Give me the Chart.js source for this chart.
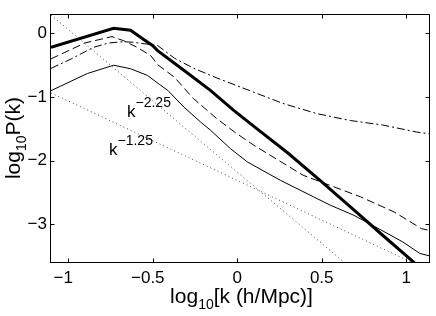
<!DOCTYPE html>
<html>
<head>
<meta charset="utf-8">
<script src="https://cdn.jsdelivr.net/npm/chart.js@4"></script>
<style>
  html, body { margin: 0; padding: 0; background: #fff; }
  #wrap { width: 436px; height: 316px; }
</style>
</head>
<body>
<div id="wrap"><canvas id="pk" width="436" height="316"></canvas></div>
<script>
// log10 k (h/Mpc) and log10 P(k)
const thickK = [-1.1, -0.73, -0.63, -0.55, -0.50, -0.47, -0.315, -0.158, -0.02, 0.118, 0.3, 0.49, 0.7, 0.85, 1.04, 1.07];
const thickP = [-0.22, 0.08, 0.05, -0.10, -0.19, -0.27, -0.58, -0.895, -1.21, -1.50, -1.88, -2.31, -2.80, -3.15, -3.59, -3.66];

const dashK = [-1.1, -0.9, -0.74, -0.67, -0.59, -0.51, -0.47, -0.37, -0.26, -0.12, 0, 0.1, 0.26, 0.39, 0.55, 0.73, 0.93, 1.09, 1.14];
const dashP = [-0.40, -0.15, -0.05, -0.115, -0.22, -0.35, -0.49, -0.69, -1.02, -1.34, -1.58, -1.76, -2.02, -2.23, -2.39, -2.57, -2.81, -3.07, -3.10];

const dashDotK = [-1.1, -0.98, -0.85, -0.76, -0.67, -0.61, -0.47, -0.37, -0.255, -0.12, 0.075, 0.27, 0.47, 0.67, 0.86, 1.06, 1.14];
const dashDotP = [-0.55, -0.40, -0.22, -0.15, -0.13, -0.14, -0.19, -0.39, -0.55, -0.70, -0.90, -1.10, -1.26, -1.37, -1.44, -1.55, -1.58];

const thinK = [-1.1, -0.885, -0.73, -0.63, -0.53, -0.46, -0.41, -0.315, -0.217, -0.158, -0.04, 0.06, 0.256, 0.452, 0.55, 0.69, 0.85, 0.98, 1.08, 1.14];
const thinP = [-0.90, -0.63, -0.50, -0.555, -0.66, -0.80, -0.895, -1.157, -1.39, -1.52, -1.81, -2.02, -2.31, -2.57, -2.70, -2.86, -3.09, -3.28, -3.46, -3.50];

// reference power laws k^-2.25 and k^-1.25
const slope225K = [-1.1, 0.66];
const slope225P = [0.29, -3.66];
const slope125K = [-1.1, 1.04];
const slope125P = [-0.935, -3.61];

const xTicks = [-1, -0.5, 0, 0.5, 1];
const yTicks = [0, -1, -2, -3];

const FONT = '"Liberation Sans", Arial, Helvetica, sans-serif';

function pts(xs, ys) {
    return xs.map((x, i) => ({ x: x, y: ys[i] }));
}

function fmt(v) {
    return v < 0 ? '\u2212' + Math.abs(v) : String(v);
}

// draw text made of pieces with their own size and baseline shift
function richText(ctx, parts, x, y, align) {
    let total = 0;
    parts.forEach(p => {
        ctx.font = p.size + 'px ' + FONT;
        p.w = ctx.measureText(p.t).width;
        total += p.w;
    });
    let cx = align === 'center' ? x - total / 2 : x;
    parts.forEach(p => {
        ctx.font = p.size + 'px ' + FONT;
        ctx.fillText(p.t, cx, y + (p.dy || 0));
        cx += p.w;
    });
}

const framePlugin = {
    id: 'frame',
    afterDraw(chart) {
        const ctx = chart.ctx;
        const ca = chart.chartArea;
        const xs = chart.scales.x, ys = chart.scales.y;
        ctx.save();
        ctx.strokeStyle = '#000';
        ctx.lineWidth = 1;
        ctx.setLineDash([]);
        ctx.strokeRect(ca.left - 0.5, ca.top - 0.5, ca.right - ca.left, ca.bottom - ca.top);

        // inward tick marks on all four sides
        const tl = 4;
        ctx.beginPath();
        xTicks.forEach(v => {
            const px = Math.round(xs.getPixelForValue(v)) + 0.5;
            ctx.moveTo(px, ca.bottom - 0.5); ctx.lineTo(px, ca.bottom - 0.5 - tl);
            ctx.moveTo(px, ca.top - 0.5); ctx.lineTo(px, ca.top - 0.5 + tl);
        });
        yTicks.forEach(v => {
            const py = Math.round(ys.getPixelForValue(v)) + 0.5;
            ctx.moveTo(ca.left - 0.5, py); ctx.lineTo(ca.left - 0.5 + tl, py);
            ctx.moveTo(ca.right - 0.5, py); ctx.lineTo(ca.right - 0.5 - tl, py);
        });
        ctx.stroke();

        ctx.fillStyle = '#000';
        ctx.textBaseline = 'alphabetic';
        ctx.textAlign = 'left';

        // axis titles
        richText(ctx, [
            { t: 'log', size: 21 },
            { t: '10', size: 14, dy: 6 },
            { t: '[k (h/Mpc)]', size: 21 }
        ], (ca.left + ca.right) / 2 + 1, 303, 'center');

        ctx.save();
        ctx.translate(20, (ca.top + ca.bottom) / 2 - 1);
        ctx.rotate(-Math.PI / 2);
        richText(ctx, [
            { t: 'log', size: 21 },
            { t: '10', size: 14, dy: 6 },
            { t: 'P(k)', size: 21 }
        ], 0, 0, 'center');
        ctx.restore();

        // labels of the power laws
        richText(ctx, [
            { t: 'k', size: 17 },
            { t: '\u22122.25', size: 14, dy: -10 }
        ], 127, 117, 'left');
        richText(ctx, [
            { t: 'k', size: 17 },
            { t: '\u22121.25', size: 14, dy: -10 }
        ], 109, 155, 'left');
        ctx.restore();
    }
};

const ctx = document.getElementById('pk').getContext('2d');
new Chart(ctx, {
    type: 'scatter',
    data: {
        datasets: [
            { data: pts(slope225K, slope225P), borderColor: '#444', borderWidth: 1, borderDash: [1, 3] },
            { data: pts(slope125K, slope125P), borderColor: '#444', borderWidth: 1, borderDash: [1, 3] },
            { data: pts(dashDotK, dashDotP), borderColor: '#000', borderWidth: 1, borderDash: [8, 3, 2, 3] },
            { data: pts(dashK, dashP), borderColor: '#000', borderWidth: 1, borderDash: [8, 4] },
            { data: pts(thinK, thinP), borderColor: '#000', borderWidth: 1 },
            { data: pts(thickK, thickP), borderColor: '#000', borderWidth: 3 }
        ].map(d => Object.assign(d, { showLine: true, pointRadius: 0, fill: false, tension: 0 }))
    },
    options: {
        responsive: false,
        animation: false,
        devicePixelRatio: 1,
        layout: { padding: { left: 0, right: 6, top: 15, bottom: 0 } },
        plugins: { legend: { display: false }, tooltip: { enabled: false } },
        scales: {
            x: {
                type: 'linear',
                min: -1.1,
                max: 1.14,
                grid: { display: false, drawTicks: false },
                border: { display: false },
                afterBuildTicks: s => { s.ticks = xTicks.map(v => ({ value: v })); },
                afterFit: s => { s.height = 53; },
                ticks: {
                    color: '#000',
                    padding: 5,
                    maxRotation: 0,
                    font: { family: FONT, size: 17 },
                    // negative labels sit a little left of their tick, as in the original
                    callback: v => v < 0 ? fmt(v) + '  ' : fmt(v)
                }
            },
            y: {
                min: -3.61,
                max: 0.29,
                grid: { display: false, drawTicks: false },
                border: { display: false },
                afterBuildTicks: s => { s.ticks = yTicks.map(v => ({ value: v })); },
                afterFit: s => { s.width = 51; },
                ticks: {
                    color: '#000',
                    padding: 4,
                    font: { family: FONT, size: 17 },
                    callback: v => fmt(v)
                }
            }
        }
    },
    plugins: [framePlugin]
});
</script>
</body>
</html>
